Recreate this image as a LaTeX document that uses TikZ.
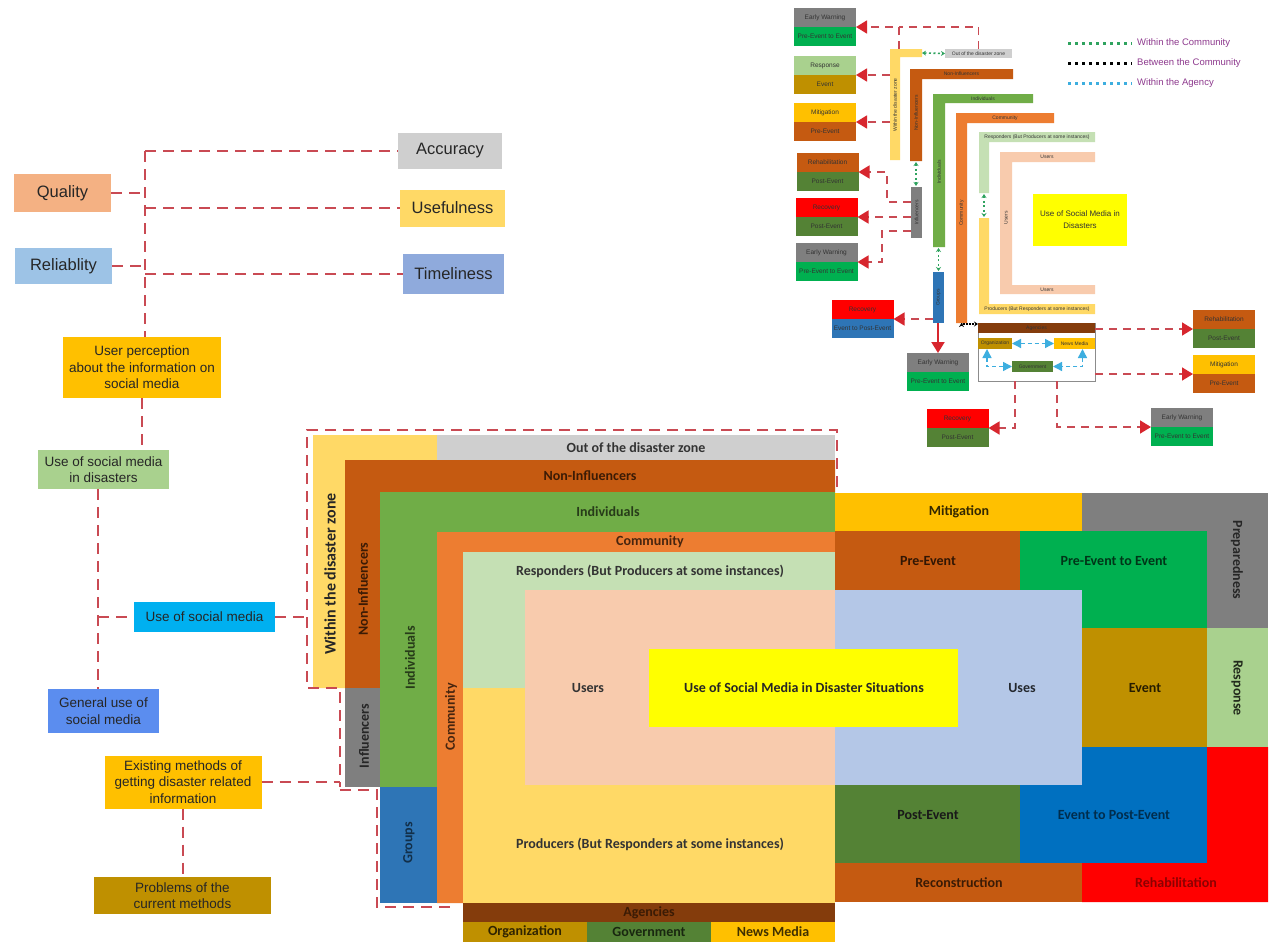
\documentclass[tikz,border=0pt]{standalone}
\usepackage{fontspec}
\setmainfont{Liberation Sans}
\newfontfamily\calibri{Carlito}
\usepackage{tikz}
\usetikzlibrary{arrows.meta,positioning}

\definecolor{cSand}{HTML}{FFD966}
\definecolor{cSilver}{HTML}{CFCFCF}
\definecolor{cRust}{HTML}{C55A11}
\definecolor{cLeaf}{HTML}{70AD47}
\definecolor{cSteel}{HTML}{2E75B6}
\definecolor{cCarrot}{HTML}{ED7D31}
\definecolor{cMint}{HTML}{C5E0B4}
\definecolor{cPeach}{HTML}{F8CBAD}
\definecolor{cSky}{HTML}{B4C7E7}
\definecolor{cLemon}{HTML}{FFFF00}
\definecolor{cBrown}{HTML}{843C0C}
\definecolor{cOlive}{HTML}{BF9000}
\definecolor{cMoss}{HTML}{548235}
\definecolor{cGold}{HTML}{FFC000}
\definecolor{cAsh}{HTML}{7F7F7F}
\definecolor{cEmerald}{HTML}{00B050}
\definecolor{cRoyal}{HTML}{0070C0}
\definecolor{cRed}{HTML}{FF0000}
\definecolor{cLime}{HTML}{A9D18E}
\definecolor{cSalmon}{HTML}{F4B183}
\definecolor{cPale}{HTML}{9DC3E6}
\definecolor{cCorn}{HTML}{8FAADC}
\definecolor{cCyan}{HTML}{00B0F0}
\definecolor{cDenim}{HTML}{5B8DEF}
\definecolor{cLink}{HTML}{C94A53}
\definecolor{cArrow}{HTML}{D7262E}
\definecolor{cAqua}{HTML}{3DAEDF}
\definecolor{cDots}{HTML}{2FA35F}
\definecolor{cPlum}{HTML}{8E3A8E}

\begin{document}
\begin{tikzpicture}[x=1pt,y=-1pt]
\tikzset{
  box/.style={inner sep=0pt, outer sep=0pt, align=center, font=\fontsize{13.5}{16.5}\selectfont, text=black!85},
  bigbox/.style={box, font=\fontsize{16.5}{19}\selectfont},
  link/.style={cLink, line width=2pt, dash pattern=on 11pt off 7pt},
  mlab/.style={inner sep=0pt, font=\calibri\bfseries\fontsize{14}{16}\selectfont},
  sbox/.style={minimum width=62, minimum height=19, inner sep=0pt, outer sep=0pt, font=\fontsize{6.5}{8}\selectfont, text=black!80},
  sbar/.style={inner sep=0pt, outer sep=0pt, font=\fontsize{5}{6}\selectfont, text=black!80},
  slink/.style={cLink, line width=1.6pt, dash pattern=on 8pt off 6pt},
  sarrow/.style={slink, -{Triangle[length=11pt,width=13pt,color=cArrow]}},
  sarrowsolid/.style={cArrow, line width=2pt, -{Triangle[length=11pt,width=13pt]}},
  aqua/.style={cAqua, line width=1.4pt, dash pattern=on 4pt off 3pt, {Triangle[length=9pt,width=9pt]}-{Triangle[length=9pt,width=9pt]}},
  gdots/.style={cDots, line width=1.6pt, dash pattern=on 2pt off 2.5pt, {Stealth[length=4pt,width=5pt]}-{Stealth[length=4pt,width=5pt]}},
  bdots/.style={black, line width=1.2pt, dash pattern=on 1.5pt off 1.5pt, {Stealth[length=4pt,width=5pt]}-{Stealth[length=4pt,width=5pt]}},
  ldots/.style={line width=3pt, dash pattern=on 3pt off 4pt},
  legend/.style={inner sep=0pt, anchor=west, text=cPlum, font=\fontsize{9.5}{11}\selectfont}
}
\useasboundingbox (0,0) rectangle (1270,945);
\fill[white] (0,0) rectangle (1270,945);

\node[bigbox, fill=cSalmon, minimum width=97, minimum height=38] (quality) at (62.5,193) {Quality};
\node[bigbox, fill=cPale, minimum width=97, minimum height=36] (reliab) at (63.5,266) {Reliablity};
\node[bigbox, fill=cSilver, minimum width=104, minimum height=36] (accuracy) at (450,151) {Accuracy};
\node[bigbox, fill=cSand, minimum width=105, minimum height=37] (usefulness) at (452.5,208) {Usefulness};
\node[bigbox, fill=cCorn, minimum width=101, minimum height=40] (timeliness) at (453.5,274) {Timeliness};
\node[box, fill=cGold, minimum width=158, minimum height=61] (perception) at (142,367.5) {User perception\\about the information on\\social media};
\node[box, fill=cLime, minimum width=131, minimum height=39] (disasters) at (103.5,469.5) {Use of social media\\in disasters};
\node[box, fill=cCyan, minimum width=141, minimum height=30] (socmedia) at (204.5,617) {Use of social media};
\node[box, fill=cDenim, minimum width=111, minimum height=44] (general) at (103.5,711) {General use of\\social media};
\node[box, fill=cGold, minimum width=157, minimum height=53] (existing) at (183,782) {Existing methods of\\getting disaster related\\information};
\node[box, fill=cOlive, minimum width=177, minimum height=37] (problems) at (182.5,895.5) {Problems of the\\current methods};

\coordinate (trunk) at (145,151);
\coordinate (stem) at (98,489);
\coordinate (zoneW) at (307,617);
\coordinate (inflW) at (340,782);
\draw[link] (trunk) -- (accuracy.west);
\draw[link] (trunk) -- (trunk |- perception.north);
\draw[link] (trunk |- usefulness.west) -- (usefulness.west);
\draw[link] (trunk |- timeliness.west) -- (timeliness.west);
\draw[link] (quality.east) -- (quality.east -| trunk);
\draw[link] (reliab.east) -- (reliab.east -| trunk);
\draw[link] (perception.south) -- (perception.south |- disasters.north);
\draw[link] (stem) -- (stem |- general.north);
\draw[link] (stem |- socmedia.west) -- (socmedia.west);
\draw[link] (socmedia.east) -- (zoneW);
\draw[link] (existing.east) -- (inflW);
\draw[link] (existing.south) -- (existing.south |- problems.north);

\fill[cSand] (313,435) rectangle (345,688) (313,435) rectangle (437,460);
\fill[cSilver] (437,435) rectangle (835,460);
\fill[cRust] (345,460) rectangle (835,492) (345,460) rectangle (380,688);
\fill[cAsh] (345,688) rectangle (380,787);
\fill[cLeaf] (380,492) rectangle (835,532) (380,492) rectangle (437,787);
\fill[cSteel] (380,787) rectangle (437,903);
\fill[cCarrot] (437,532) rectangle (835,552) (437,532) rectangle (463,903);
\fill[cMint] (463,552) rectangle (835,590) (463,552) rectangle (525,688);
\fill[cSand] (463,688) rectangle (835,903);
\fill[cPeach] (525,590) rectangle (835,785);
\fill[cBrown] (463,903) rectangle (835,922);
\fill[cOlive] (463,922) rectangle (587,942);
\fill[cMoss] (587,922) rectangle (711,942);
\fill[cGold] (711,922) rectangle (835,942);
\fill[cGold] (835,493) rectangle (1082,531);
\fill[cAsh] (1082,493) rectangle (1268,628);
\fill[cRust] (835,531) rectangle (1020,590);
\fill[cEmerald] (1020,531) rectangle (1207,628);
\fill[cOlive] (1082,628) rectangle (1207,747);
\fill[cLime] (1207,628) rectangle (1268,747);
\fill[cRed] (1207,747) rectangle (1268,902) (1082,863) rectangle (1268,902);
\fill[cRoyal] (1020,747) rectangle (1207,863);
\fill[cMoss] (835,785) rectangle (1020,863);
\fill[cRust] (835,863) rectangle (1082,902);
\fill[cSky] (835,590) rectangle (1082,785);
\fill[cLemon] (649,649) rectangle (958,727);

\draw[link] (837,487) -- (837,430) -- (307,430) -- (307,688) -- (340,688) -- (340,787);
\draw[link] (340,790) -- (377,790) -- (377,907) -- (455,907);

\node[mlab, text=black!80] (tOut) at (636,447.5) {Out of the disaster zone};
\node[mlab, rotate=90, text=black!85, font=\calibri\bfseries\fontsize{16}{18}\selectfont] (tWithin) at (330,574) {Within the disaster zone};
\node[mlab, text=cRust!30!black] (tNonInfH) at (590,476) {Non-Influencers};
\node[mlab, rotate=90, text=cRust!30!black] (tNonInfV) at (363,589) {Non-Influencers};
\node[mlab, text=cLeaf!35!black] (tIndivH) at (608,512) {Individuals};
\node[mlab, rotate=90, text=cLeaf!35!black] (tIndivV) at (410,658) {Individuals};
\node[mlab, rotate=90, text=black!85] (tInfl) at (364,736) {Influencers};
\node[mlab, rotate=90, text=cSteel!40!black] (tGroups) at (409,843) {Groups};
\node[mlab, text=cCarrot!30!black] (tCommH) at (650,542) {Community};
\node[mlab, rotate=90, text=cCarrot!30!black] (tCommV) at (451,717) {Community};
\node[mlab, text=black!80] (tResp) at (650,571) {Responders (But Producers at some instances)};
\node[mlab, text=black!80] (tUsers) at (588,688) {Users};
\node[mlab, text=black!85] (tCentre) at (804,688) {Use of Social Media in Disaster Situations};
\node[mlab, text=black!80] (tProd) at (650,844) {Producers (But Responders at some instances)};
\node[mlab, text=cBrown!45!black] (tAgen) at (649,912.5) {Agencies};
\node[mlab, text=cOlive!25!black] (tOrg) at (525,932) {Organization};
\node[mlab, text=cMoss!30!black] (tGov) at (649,932) {Government};
\node[mlab, text=cGold!25!black] (tNews) at (773,932) {News Media};
\node[mlab, text=cSky!20!black] (tUses) at (1022,688) {Uses};
\node[mlab, text=cGold!20!black] (tMiti) at (959,512) {Mitigation};
\node[mlab, rotate=-90, text=black!85] (tPrep) at (1237,560) {Preparedness};
\node[mlab, text=cRust!25!black] (tPre) at (928,561) {Pre-Event};
\node[mlab, text=cEmerald!30!black] (tPreEv) at (1114,561) {Pre-Event to Event};
\node[mlab, text=cOlive!20!black] (tEvent) at (1145,688) {Event};
\node[mlab, rotate=-90, text=cLime!20!black] (tResponse) at (1237,688) {Response};
\node[mlab, text=black!90] (tPost) at (928,815) {Post-Event};
\node[mlab, text=cRoyal!40!black] (tEvPost) at (1114,815) {Event to Post-Event};
\node[mlab, text=cRust!30!black] (tRecon) at (959,883) {Reconstruction};
\node[mlab, text=cRed!55!black] (tRehab) at (1176,883) {Rehabilitation};

\node[sbox, fill=cAsh] (ewAa) at (825,17.5) {Early Warning};
\node[sbox, fill=cEmerald, below=0pt of ewAa] (ewAb) {Pre-Event to Event};
\node[sbox, fill=cLime] (respa) at (825,65.5) {Response};
\node[sbox, fill=cOlive, below=0pt of respa] (respb) {Event};
\node[sbox, fill=cGold] (mitia) at (825,112.5) {Mitigation};
\node[sbox, fill=cRust, below=0pt of mitia] (mitib) {Pre-Event};
\node[sbox, fill=cRust] (rehabAa) at (827.5,162.5) {Rehabilitation};
\node[sbox, fill=cMoss, below=0pt of rehabAa] (rehabAb) {Post-Event};
\node[sbox, fill=cRed] (recAa) at (826.5,207.5) {Recovery};
\node[sbox, fill=cMoss, below=0pt of recAa] (recAb) {Post-Event};
\node[sbox, fill=cAsh] (ewBa) at (826.5,252.5) {Early Warning};
\node[sbox, fill=cEmerald, below=0pt of ewBa] (ewBb) {Pre-Event to Event};
\node[sbox, fill=cRed] (recBa) at (862.5,309.5) {Recovery};
\node[sbox, fill=cSteel, below=0pt of recBa] (recBb) {Event to Post-Event};
\node[sbox, fill=cAsh] (ewCa) at (938,362.5) {Early Warning};
\node[sbox, fill=cEmerald, below=0pt of ewCa] (ewCb) {Pre-Event to Event};
\node[sbox, fill=cRust] (rehabBa) at (1224,319.5) {Rehabilitation};
\node[sbox, fill=cMoss, below=0pt of rehabBa] (rehabBb) {Post-Event};
\node[sbox, fill=cGold] (mitiBa) at (1224,364.5) {Mitigation};
\node[sbox, fill=cRust, below=0pt of mitiBa] (mitiBb) {Pre-Event};
\node[sbox, fill=cRed] (recCa) at (957.5,418.5) {Recovery};
\node[sbox, fill=cMoss, below=0pt of recCa] (recCb) {Post-Event};
\node[sbox, fill=cAsh] (ewDa) at (1182,417.5) {Early Warning};
\node[sbox, fill=cEmerald, below=0pt of ewDa] (ewDb) {Pre-Event to Event};

\fill[cSand] (890,49) rectangle (900,160) (890,49) rectangle (922,57);
\fill[cRust] (910,69) rectangle (1013,79) (910,69) rectangle (922,161);
\fill[cLeaf] (933,94) rectangle (1033,103) (933,94) rectangle (945,247);
\fill[cCarrot] (956,113) rectangle (1054,123) (956,113) rectangle (967,323);
\fill[cMint] (979,132) rectangle (1095,142) (979,132) rectangle (989,193);
\fill[cPeach] (1000,152) rectangle (1095,162) (1000,152) rectangle (1012,294) (1000,285) rectangle (1095,294);
\fill[cSand] (979,218) rectangle (989,314) (979,304) rectangle (1095,314);
\fill[cAsh] (911,187) rectangle (922,238);
\fill[cSteel] (933,272) rectangle (944,323);

\node[sbar, rotate=90] (sWithin) at (895,105) {Within the disaster zone};
\node[sbar, fill=cSilver, minimum width=67, minimum height=9] (sOut) at (978.5,53.5) {Out of the disaster zone};
\node[sbar] (sNonInfH) at (961.5,74) {Non-Influencers};
\node[sbar, rotate=90] (sNonInfV) at (916,113) {Non-Influencers};
\node[sbar] (sIndivH) at (983,98.5) {Individuals};
\node[sbar, rotate=90] (sIndivV) at (939,172) {Individuals};
\node[sbar] (sCommH) at (1005,118) {Community};
\node[sbar, rotate=90] (sCommV) at (961.5,213) {Community};
\node[sbar] (sRespH) at (1037,137) {Responders (But Producers at some instances)};
\node[sbar] (sUsersT) at (1047,157) {Users};
\node[sbar, rotate=90] (sUsersV) at (1006,218) {Users};
\node[sbar] (sUsersB) at (1047,289.5) {Users};
\node[sbar] (sProdH) at (1037,309) {Producers (But Responders at some instances)};
\node[sbar, rotate=90] (sInfl) at (916.5,212.5) {Influencers};
\node[sbar, rotate=90] (sGroups) at (938.5,297.5) {Groups};
\node[sbar, fill=cLemon, minimum width=94, minimum height=52, align=center, font=\fontsize{8}{12}\selectfont] (sCentre) at (1080,220) {Use of Social Media in\\Disasters};

\node[draw=black!45, fill=white, line width=0.8pt, minimum width=117, minimum height=58, inner sep=0pt] (sAgency) at (1036.5,352) {};
\node[sbar, fill=cBrown, minimum width=117, minimum height=10] (sAgenHead) at (1036.5,328) {Agencies};
\node[sbar, fill=cOlive, minimum width=34, minimum height=11] (sOrg) at (995,343.5) {Organization};
\node[sbar, fill=cGold, minimum width=41, minimum height=11] (sNews) at (1074.5,343.5) {News Media};
\node[sbar, fill=cMoss, minimum width=41, minimum height=11] (sGov) at (1032.5,366.5) {Government};

\coordinate (sZoneTop) at (899,49);
\coordinate (sZoneW) at (890,100);
\coordinate (sZoneE) at (922,53);
\coordinate (sNonInfEnd) at (916,162);
\coordinate (sInflTop) at (916,186);
\coordinate (sRespEnd) at (984,194);
\coordinate (sProdTop) at (984,217);
\coordinate (sIndivEnd) at (938.5,248);
\coordinate (sGroupsTop) at (938.5,271);
\coordinate (sInflA) at (911,202);
\coordinate (sInflB) at (911,217);
\coordinate (sInflC) at (911,231);
\coordinate (sGroupsW) at (933,319);
\coordinate (sGroupsS) at (938,323);
\coordinate (sCommS) at (961.5,323);

\draw[slink] (sOut.north) |- (sZoneTop |- ewAa.south east);
\draw[sarrow] (sZoneTop) |- (ewAa.south east);
\draw[sarrow] (sZoneW |- respa.south east) -- (respa.south east);
\draw[sarrow] (sZoneW |- mitia.south east) -- (mitia.south east);
\draw[gdots] (sZoneE) -- (sOut.west);
\draw[gdots] (sNonInfEnd) -- (sInflTop);
\draw[gdots] (sRespEnd) -- (sProdTop);
\draw[gdots] (sIndivEnd) -- (sGroupsTop);
\draw[sarrow] (sInflA) -- ++(-24,0) |- (rehabAa.south east);
\draw[sarrow] (sInflB) -- (recAa.south east);
\draw[sarrow] (sInflC) -- ++(-29,0) |- (ewBa.south east);
\draw[sarrow] (sGroupsW) -- (recBa.south east);
\draw[sarrowsolid] (sGroupsS) -- (ewCa.north);
\draw[bdots] (sCommS) |- ([yshift=4pt]sAgenHead.west);
\draw[aqua] (sOrg.east) -- (sNews.west);
\draw[aqua] ([xshift=-8pt]sOrg.south) |- (sGov.west);
\draw[aqua] ([xshift=8pt]sNews.south) |- (sGov.east);
\draw[sarrow] (sAgency.east |- rehabBa.south west) -- (rehabBa.south west);
\draw[sarrow] (sAgency.east |- mitiBa.south west) -- (mitiBa.south west);
\draw[sarrow] ([xshift=-21.5pt]sAgency.south) |- (recCa.south east);
\draw[sarrow] ([xshift=20.5pt]sAgency.south) |- (ewDa.south west);

\coordinate (lgA) at (1068,43);
\coordinate (lgB) at (1068,63);
\coordinate (lgC) at (1068,83);
\node[legend] (lgAt) at (1137,43) {Within the Community};
\node[legend] (lgBt) at (1137,63) {Between the Community};
\node[legend] (lgCt) at (1137,83) {Within the Agency};
\draw[ldots, cDots] (lgA) -- ([xshift=-5pt]lgAt.west);
\draw[ldots, black] (lgB) -- ([xshift=-5pt]lgBt.west);
\draw[ldots, cAqua] (lgC) -- ([xshift=-5pt]lgCt.west);
\end{tikzpicture}
\end{document}
